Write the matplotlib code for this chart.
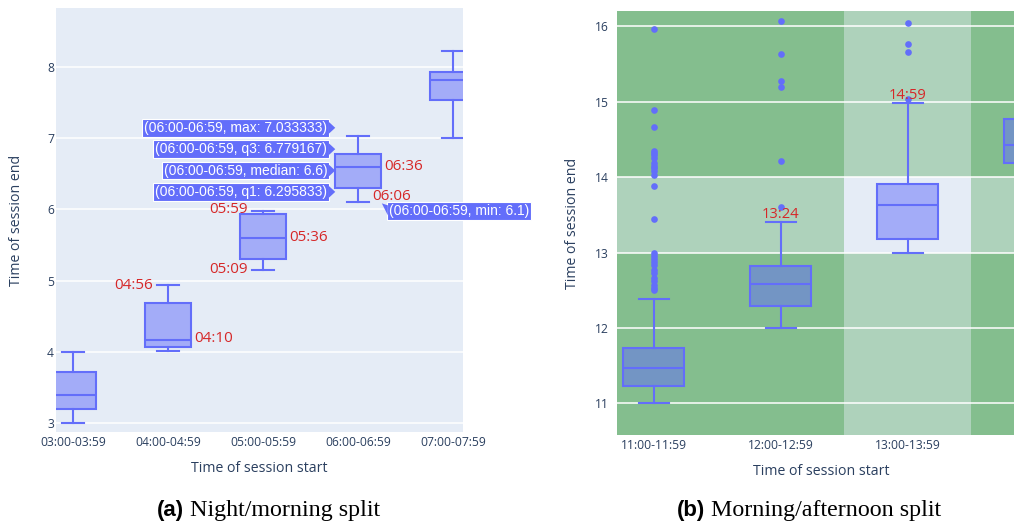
import matplotlib
matplotlib.use("Agg")
import matplotlib.pyplot as plt
import matplotlib.transforms as mtransforms
from matplotlib.patches import Polygon

# ---------------- data: panel (a) night/morning split ----------------
a_categories = ['03:00-03:59', '04:00-04:59', '05:00-05:59', '06:00-06:59', '07:00-07:59']
a_min = [3.0, 4.017, 5.15, 6.1, 7.0]
a_q1 = [3.2, 4.07, 5.31, 6.295833, 7.54]
a_med = [3.39, 4.167, 5.6, 6.6, 7.82]
a_q3 = [3.71, 4.69, 5.93, 6.779167, 7.93]
a_max = [4.0, 4.933, 5.983, 7.033333, 8.22]
a_yticks = [3, 4, 5, 6, 7, 8]

# ---------------- data: panel (b) morning/afternoon split ----------------
b_categories = ['11:00-11:59', '12:00-12:59', '13:00-13:59', '14:00-14:59']
b_min = [11.0, 12.0, 13.0, 14.0]
b_q1 = [11.23, 12.29, 13.18, 14.19]
b_med = [11.47, 12.58, 13.63, 14.43]
b_q3 = [11.73, 12.82, 13.91, 14.77]
b_max = [12.38, 13.4, 14.983, 15.4]
b_outliers = [
    [12.50, 12.53, 12.57, 12.62, 12.66, 12.73, 12.77, 12.83, 12.88, 12.92, 12.96, 13.0,
     13.45, 13.88, 14.03, 14.08, 14.12, 14.15, 14.19, 14.25, 14.29, 14.32, 14.35,
     14.67, 14.89, 15.97],
    [13.6, 14.21, 15.2, 15.27, 15.63, 16.07],
    [15.04, 15.66, 15.76, 16.05],
    [],
]
b_yticks = [11, 12, 13, 14, 15, 16]
b_highlight_hour = 13

# ---------------- style ----------------
W, H, DPI = 1014, 524, 100
BLUE = '#636efa'
BLUE_FILL = (0x63 / 255, 0x6e / 255, 0xfa / 255, 0.5)
BG = '#e5ecf6'
RED = '#d62728'
TXT = '#2a3f5f'
FONT = 'Open Sans'
BOX_W = 0.48
LW = 1.5


def hhmm(v):
    h = int(v)
    m = int(round((v - h) * 60))
    if m == 60:
        h, m = h + 1, 0
    return f'{h:02d}:{m:02d}'


def fmt(v):
    return f'{v:.6f}'.rstrip('0').rstrip('.')


fig = plt.figure(figsize=(W / DPI, H / DPI), dpi=DPI)
fig.patch.set_facecolor('white')


def px_axes(l, t, r, b):
    return fig.add_axes([l / W, 1 - b / H, (r - l) / W, (b - t) / H])


axA = px_axes(56, 8, 463, 432)
axB = px_axes(617, 11, 1014, 435)

A_XLIM, A_YLIM = (-0.18, 4.105), (2.874, 8.83)
B_XLIM, B_YLIM = (-0.291, 2.835), (10.58, 16.203)


def style(ax, cats, yticks, xlim, ylim, ypad):
    ax.set_facecolor(BG)
    for s in ax.spines.values():
        s.set_visible(False)
    ax.set_xlim(*xlim)
    ax.set_ylim(*ylim)
    ax.set_autoscale_on(False)
    ax.set_xticks(range(len(cats)))
    ax.set_xticklabels(cats)
    ax.set_yticks(yticks)
    ax.tick_params(length=0, labelsize=8.7, labelcolor=TXT)
    ax.tick_params(axis='x', pad=3)
    ax.tick_params(axis='y', pad=ypad)
    for lab in ax.get_xticklabels() + ax.get_yticklabels():
        lab.set_fontfamily(FONT)
    ax.set_axisbelow(True)
    ax.grid(axis='y', color='white', lw=1.1)
    ax.grid(axis='x', visible=False)


def draw_boxes(ax, mins, q1, med, q3, maxs, fliers=None):
    stats = []
    for i in range(len(mins)):
        stats.append(dict(whislo=mins[i], q1=q1[i], med=med[i], q3=q3[i], whishi=maxs[i],
                          fliers=(fliers[i] if fliers else [])))
    ax.bxp(stats, positions=list(range(len(stats))), widths=BOX_W, capwidths=BOX_W / 2,
           patch_artist=True, showfliers=True, manage_ticks=False,
           boxprops=dict(facecolor=BLUE_FILL, edgecolor=BLUE, linewidth=LW),
           medianprops=dict(color=BLUE, linewidth=LW),
           whiskerprops=dict(color=BLUE, linewidth=LW),
           capprops=dict(color=BLUE, linewidth=LW),
           flierprops=dict(marker='o', markerfacecolor=BLUE, markeredgecolor='none',
                           markersize=4.8),
           zorder=3)


def axis_titles(ax, xl_x, xl_y, yl_x):
    ax.text(xl_x, xl_y, 'Time of session start', transform=ax.transAxes, ha='center',
            va='center', fontsize=10.2, color=TXT, family=FONT)
    ax.text(yl_x, 0.5, 'Time of session end', transform=ax.transAxes, ha='center',
            va='center', rotation=90, fontsize=10.2, color=TXT, family=FONT)


# ---------------- panel (a) ----------------
style(axA, a_categories, a_yticks, A_XLIM, A_YLIM, 1.5)
draw_boxes(axA, a_min, a_q1, a_med, a_q3, a_max)
axis_titles(axA, 0.5, -0.087, -0.096)

a_stats = {'min': a_min, 'q1': a_q1, 'med': a_med, 'q3': a_q3, 'max': a_max}
# (category, statistic, side, extra vertical offset in px)
a_marks = [(1, 'max', 'left', 0), (1, 'med', 'right', 1), (2, 'max', 'left', 1),
           (2, 'med', 'right', 0), (2, 'min', 'left', 0), (3, 'med', 'right', 0),
           (3, 'min', 'right', 6)]
for ci, st, side, dy in a_marks:
    v = a_stats[st][ci]
    if st == 'med':
        x = ci + BOX_W / 2 if side == 'right' else ci - BOX_W / 2
    else:
        x = ci + BOX_W / 4 if side == 'right' else ci - BOX_W / 4
    dx = 3 if side == 'right' else -4
    axA.annotate(hhmm(v), xy=(x, v), xytext=(dx, dy), textcoords='offset pixels',
                 ha='left' if side == 'right' else 'right', va='center', color=RED,
                 fontsize=11, family=FONT, zorder=6)

# hover labels for the 06:00 box
hi = 3
hover = [('max', a_max[hi]), ('q3', a_q3[hi]), ('median', a_med[hi]), ('q1', a_q1[hi])]
mean_v = sum(v for _, v in hover) / len(hover)
spacing = 0.3
HOVER_FONT = 10
HOVER_BOX = dict(boxstyle='square,pad=0.14', fc=BLUE, ec='white', lw=0.8)
for k, (name, v) in enumerate(hover):
    yc = mean_v + (1.5 - k) * spacing + 0.02
    xa = hi - BOX_W / 2
    axA.annotate(f'({a_categories[hi]}, {name}: {fmt(v)})', xy=(xa, yc), xytext=(-8, 0),
                 textcoords='offset pixels', ha='right', va='center', color='white',
                 fontsize=HOVER_FONT, family='Liberation Sans', zorder=8, bbox=HOVER_BOX)
    tr = mtransforms.ScaledTranslation(xa, yc, axA.transData)
    axA.add_patch(Polygon([(0, 0), (-6.5, 6), (-6.5, -6)], closed=True, fc=BLUE, ec='none',
                          transform=tr, zorder=9, clip_on=False))
# min hover label (to the lower right)
vmin = a_min[hi]
xa = hi + BOX_W / 2
axA.annotate(f'({a_categories[hi]}, min: {fmt(vmin)})', xy=(xa, vmin), xytext=(8, -2),
             textcoords='offset pixels', ha='left', va='top', color='white',
             fontsize=HOVER_FONT, family='Liberation Sans', zorder=8, bbox=HOVER_BOX)
tr = mtransforms.ScaledTranslation(xa, vmin, axA.transData)
axA.add_patch(Polygon([(1, -1), (7, -3), (7, -13)], closed=True, fc=BLUE, ec='none',
                      transform=tr, zorder=9, clip_on=False))

# ---------------- panel (b) ----------------
style(axB, b_categories, b_yticks, B_XLIM, B_YLIM, 6)
hc = [c[:2] for c in b_categories].index(f'{b_highlight_hour:02d}')
GREEN = (0, 0.5, 0, 0.24)
axB.axvspan(-1, hc - 0.5, color=GREEN, lw=0, zorder=0.2)
axB.axvspan(hc + 0.5, len(b_categories) + 1, color=GREEN, lw=0, zorder=0.2)
axB.axhspan(0, b_highlight_hour, color=GREEN, lw=0, zorder=0.2)
axB.axhspan(b_highlight_hour + 1, 30, color=GREEN, lw=0, zorder=0.2)
draw_boxes(axB, b_min, b_q1, b_med, b_q3, b_max, b_outliers)
axis_titles(axB, (821 - 617) / (1014 - 617), -0.087, -0.113)
for ci in (1, 2):
    axB.annotate(hhmm(b_max[ci]), xy=(ci, b_max[ci]), xytext=(0, 0),
                 textcoords='offset pixels', ha='center', va='bottom', color=RED,
                 fontsize=10.6, family=FONT, zorder=6)

axA.set_xlim(*A_XLIM)
axA.set_ylim(*A_YLIM)
axB.set_xlim(*B_XLIM)
axB.set_ylim(*B_YLIM)

# ---------------- captions ----------------
fig.canvas.draw()
r = fig.canvas.get_renderer()
for x0, tag, body in [(157, '(a)', 'Night/morning split'), (677, '(b)', 'Morning/afternoon split')]:
    t1 = fig.text(x0 / W, 8 / H, tag, ha='left', va='baseline', fontsize=16,
                  family='Liberation Sans', weight='bold', color='black')
    bb = t1.get_window_extent(r)
    fig.text((bb.x1 + 6) / W, 8 / H, body, ha='left', va='baseline', fontsize=17.3,
             family='Liberation Serif', color='black')

fig.savefig('out.png', dpi=DPI, facecolor='white')
